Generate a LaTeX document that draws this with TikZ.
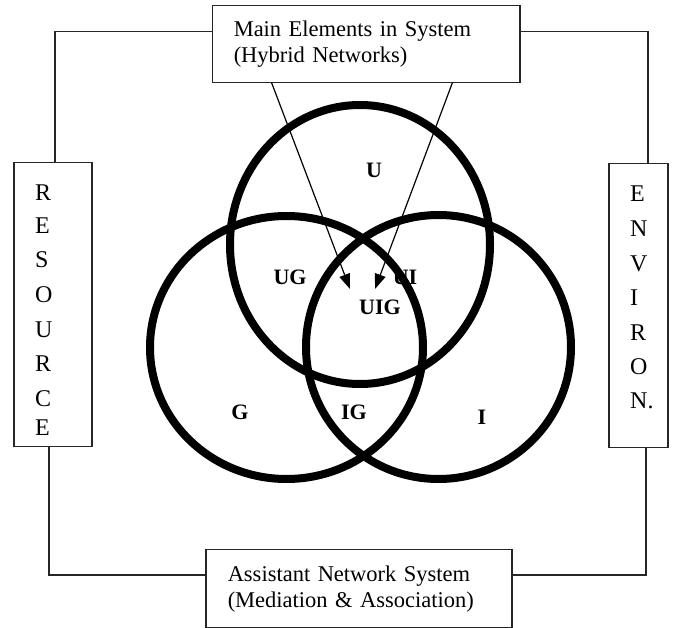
\documentclass[tikz,border=0pt]{standalone}
\usepackage{fontspec}
\setmainfont{Liberation Serif}
\usetikzlibrary{arrows.meta,shapes.geometric}
\begin{document}
\begin{tikzpicture}[x=1pt,y=-1pt,
  box/.style={draw=black!85,line width=1.5pt,inner sep=0pt},
  venn/.style={draw=black,line width=8pt,ellipse,inner sep=0pt},
  lab/.style={font=\fontsize{22}{26}\selectfont\bfseries,inner sep=0pt},
  letter/.style={font=\fontsize{24}{28}\selectfont,anchor=base west,inner sep=0pt},
  conn/.style={draw=black!85,line width=1.5pt},
  arr/.style={line width=1.2pt,-{Triangle[length=15pt,width=11pt]}},
  boxtext/.style={font=\fontsize{22.5}{26}\selectfont,align=left}]
\useasboundingbox (0,0) rectangle (673,628);
\fill[white] (0,0) rectangle (673,628);

% boxes
\node[box,boxtext,anchor=north west,minimum width=307.5pt,minimum height=77pt,
      text width=264.5pt,inner xsep=21.5pt] (top) at (211.5,5)
      {Main Elements in System\\(Hybrid Networks)};
\node[box,boxtext,anchor=north west,minimum width=306pt,minimum height=78pt,
      text width=262pt,inner xsep=22pt] (bot) at (205,549)
      {Assistant Network System\\(Mediation \& Association)};
\node[box,anchor=north west,minimum width=78pt,minimum height=284pt] (res) at (13,162) {};
\node[box,anchor=north west,minimum width=59pt,minimum height=284pt] (env) at (608,163) {};

\foreach \l/\yy [count=\i] in {R/201,E/234,S/268,O/303,U/338,R/372,C/407,E/436}
  \node[letter] (r\i) at (35,\yy) {\l};
\foreach \l/\yy [count=\i] in {E/202,N/237,V/272,I/306,R/341,O/375,N./409}
  \node[letter] (e\i) at (630,\yy) {\l};

% connectors
\coordinate (tl) at (55,31.5);
\coordinate (bl) at (49,575);
\coordinate (tr) at (648,31.5);
\coordinate (br) at (646,575);
\draw[conn] (top.west |- tl) -- (tl) -- (res.north -| tl);
\draw[conn] (res.south -| bl) -- (bl) -- (bot.west |- bl);
\draw[conn] (top.east |- tr) -- (tr) -- (env.north -| tr);
\draw[conn] (env.south -| br) -- (br) -- (bot.east |- br);

% Venn
\node[venn,minimum width=260pt,minimum height=279pt] (U) at (360,244.5) {};
\node[venn,minimum width=273pt,minimum height=263pt] (G) at (286.5,347.5) {};
\node[venn,minimum width=265pt,minimum height=264pt] (I) at (438.5,347) {};

\node[lab] (lU) at (374,170) {U};
\node[lab] (lUG) at (290,277.5) {UG};
\node[lab] (lUI) at (405,277.5) {UI};
\node[lab] (lUIG) at (380,307) {UIG};
\node[lab] (lG) at (240,412) {G};
\node[lab] (lIG) at (354,412) {IG};
\node[lab] (lI) at (482,417) {I};

% arrows
\coordinate (s1) at (271.5,82.5);
\coordinate (t1) at (350,289);
\coordinate (s2) at (452.5,82.5);
\coordinate (t2) at (375,289);
\draw[arr] (s1) -- (t1);
\draw[arr] (s2) -- (t2);
\end{tikzpicture}
\end{document}
